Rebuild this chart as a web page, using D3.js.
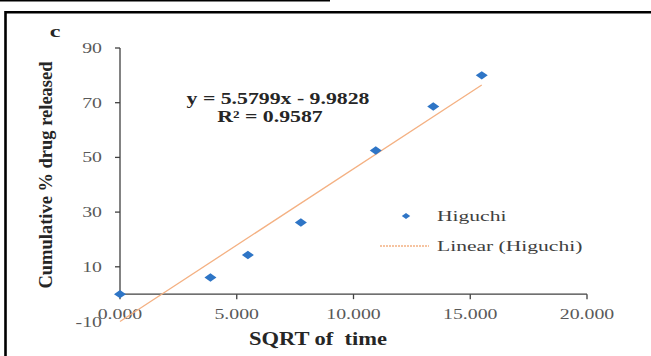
<!DOCTYPE html>
<html>
<head>
<meta charset="utf-8">
<script src="https://cdn.jsdelivr.net/npm/d3@7"></script>
<style>
  body { margin: 0; background: #fff; }
  text { font-family: "Liberation Serif", "Times New Roman", serif; }
</style>
</head>
<body>
<script>
// data
let sqrtTime = [0, 3.873, 5.477, 7.746, 10.954, 13.416, 15.492];
let released = [0, 6.1, 14.3, 26.2, 52.5, 68.6, 80.0];
let slope = 5.5799;
let intercept = -9.9828;
let xTicks = [0, 5, 10, 15, 20];
let yTicks = [-10, 10, 30, 50, 70, 90];

let width = 651;
let height = 356;
let stretch = 1.32; // the source image is squeezed wider than normal type

let svg = d3.select("body").append("svg")
  .attr("width", width)
  .attr("height", height);

// page rules / frame
svg.append("line").attr("x1", 0).attr("x2", 330).attr("y1", 0.8).attr("y2", 0.8)
  .attr("stroke", "#000").attr("stroke-width", 1.6);
svg.append("path")
  .attr("d", "M5.5,360 V12.2 H660")
  .attr("fill", "none").attr("stroke", "#000").attr("stroke-width", 2.6);

let x = d3.scaleLinear().domain([0, 20]).range([120, 587]);
let y = d3.scaleLinear().domain([-10, 90]).range([321.5, 48]);

// widen a text element horizontally
function widen(sel, factor) {
  sel.each(function() {
    let w = this.getComputedTextLength();
    d3.select(this).attr("textLength", w * (factor || stretch)).attr("lengthAdjust", "spacingAndGlyphs");
  });
}

// y axis (line only from 0 up to 90)
let yAxis = svg.append("g");
yAxis.append("line")
  .attr("x1", x(0)).attr("x2", x(0))
  .attr("y1", y(90)).attr("y2", y(0))
  .attr("stroke", "#404040").attr("stroke-width", 1.3);
yAxis.selectAll(".ytick").data(yTicks.filter(d => d > 0)).enter()
  .append("line")
  .attr("x1", x(0) - 5).attr("x2", x(0))
  .attr("y1", d => y(d)).attr("y2", d => y(d))
  .attr("stroke", "#404040").attr("stroke-width", 1.3);
yAxis.selectAll(".ylab").data(yTicks).enter()
  .append("text")
  .attr("x", 102).attr("y", d => y(d) + 5)
  .attr("text-anchor", "end")
  .attr("font-size", 15).attr("fill", "#595959")
  .text(d => d)
  .call(widen);

// x axis
let xAxis = svg.append("g");
xAxis.append("line")
  .attr("x1", x(0)).attr("x2", x(20))
  .attr("y1", y(0)).attr("y2", y(0))
  .attr("stroke", "#404040").attr("stroke-width", 1.3);
xAxis.selectAll(".xtick").data(xTicks).enter()
  .append("line")
  .attr("x1", d => x(d)).attr("x2", d => x(d))
  .attr("y1", y(0)).attr("y2", y(0) + 5)
  .attr("stroke", "#404040").attr("stroke-width", 1.3);
xAxis.selectAll(".xlab").data(xTicks).enter()
  .append("text")
  .attr("x", d => x(d)).attr("y", 319)
  .attr("text-anchor", "middle")
  .attr("font-size", 15).attr("fill", "#595959")
  .text(d => d3.format(".3f")(d))
  .call(widen);

// trend line
svg.append("line")
  .attr("x1", x(0)).attr("y1", y(intercept))
  .attr("x2", x(d3.max(sqrtTime))).attr("y2", y(slope * d3.max(sqrtTime) + intercept))
  .attr("stroke", "#f4b183").attr("stroke-width", 1.3);

// markers
let diamond = (w, h) => `M0,${-h} L${w},0 L0,${h} L${-w},0 Z`;
svg.selectAll(".pt").data(sqrtTime).enter()
  .append("path")
  .attr("d", diamond(6, 4.2))
  .attr("transform", (d, i) => `translate(${x(d)},${y(released[i])})`)
  .attr("fill", "#2e75c6");

// equation
svg.append("text")
  .attr("x", 278).attr("y", 104)
  .attr("text-anchor", "middle")
  .attr("font-size", 16).attr("font-weight", "bold").attr("fill", "#262626")
  .text(`y = ${slope}x - ${Math.abs(intercept)}`)
  .call(widen, 1.36);
svg.append("text")
  .attr("x", 270).attr("y", 122)
  .attr("text-anchor", "middle")
  .attr("font-size", 16).attr("font-weight", "bold").attr("fill", "#262626")
  .text("R² = 0.9587")
  .call(widen, 1.36);

// legend
svg.append("path").attr("d", diamond(4.2, 3)).attr("transform", "translate(406,216)").attr("fill", "#2e75c6");
svg.append("text").attr("x", 437).attr("y", 221).attr("font-size", 15.5).attr("fill", "#404040")
  .text("Higuchi").call(widen, 1.39);
svg.append("line").attr("x1", 380).attr("x2", 429).attr("y1", 246).attr("y2", 246)
  .attr("stroke", "#f4b183").attr("stroke-width", 1.3).attr("stroke-dasharray", "2,1");
svg.append("text").attr("x", 437).attr("y", 251).attr("font-size", 15.5).attr("fill", "#404040")
  .text("Linear (Higuchi)").call(widen, 1.39);

// titles
svg.append("text")
  .attr("x", 318).attr("y", 345)
  .attr("text-anchor", "middle")
  .attr("font-size", 18).attr("font-weight", "bold").attr("fill", "#262626")
  .attr("xml:space", "preserve")
  .text("SQRT of  time")
  .call(widen, 1.25);
svg.append("text")
  .attr("transform", "translate(52,175) rotate(-90)")
  .attr("text-anchor", "middle")
  .attr("font-size", 18).attr("font-weight", "bold").attr("fill", "#262626")
  .text("Cumulative % drug released")
  .each(function() { d3.select(this).attr("textLength", 227).attr("lengthAdjust", "spacingAndGlyphs"); });
svg.append("text")
  .attr("x", 55).attr("y", 37)
  .attr("text-anchor", "middle")
  .attr("font-size", 16).attr("font-weight", "bold").attr("fill", "#262626")
  .text("c")
  .call(widen, 1.5);
</script>
</body>
</html>
